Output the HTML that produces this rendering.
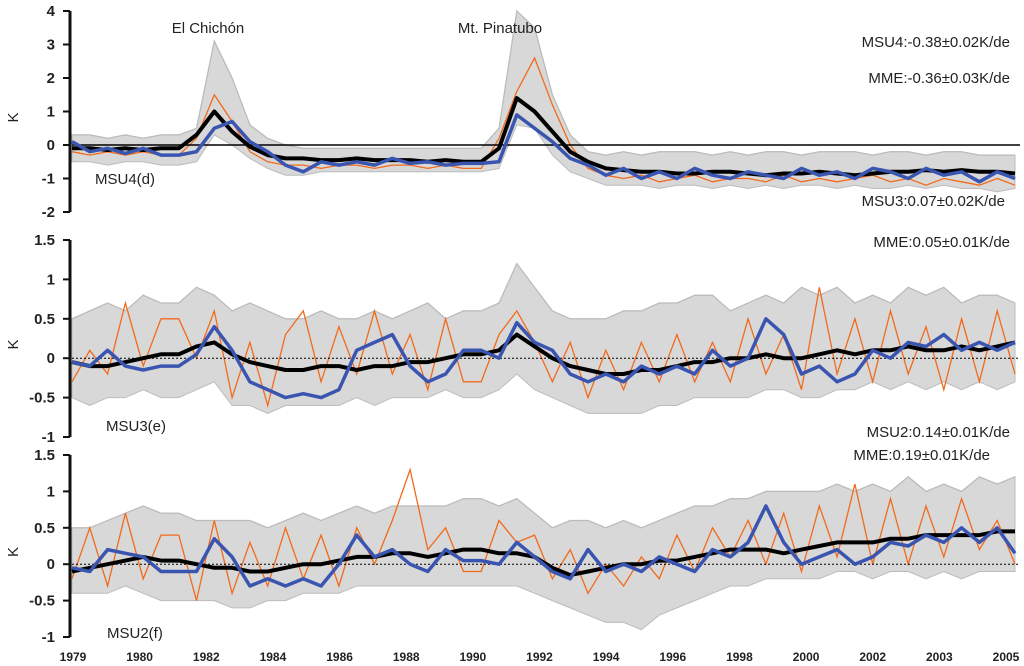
<!DOCTYPE html>
<html><head><meta charset="utf-8"><style>
html,body{margin:0;padding:0;background:#fff}
svg{display:block;font-family:"Liberation Sans",sans-serif}
</style></head><body>
<svg id="c" width="1024" height="666" viewBox="0 0 1024 666"></svg>
<script>
const xLabels=["1979","1980","1982","1984","1986","1988","1990","1992","1994","1996","1998","2000","2002","2003","2005"];
const p1Ticks=[4,3,2,1,0,-1,-2];
const p2Ticks=[1.5,1,0.5,0,-0.5,-1];
const p3Ticks=[1.5,1,0.5,0,-0.5,-1];
const p1Black=[-0.1,-0.1,-0.15,-0.1,-0.15,-0.1,-0.1,0.3,1.0,0.4,-0.05,-0.3,-0.4,-0.4,-0.45,-0.45,-0.4,-0.45,-0.45,-0.45,-0.5,-0.45,-0.5,-0.5,-0.1,1.4,1.0,0.4,-0.2,-0.5,-0.7,-0.75,-0.8,-0.8,-0.85,-0.85,-0.8,-0.8,-0.85,-0.9,-0.85,-0.85,-0.8,-0.85,-0.9,-0.85,-0.8,-0.8,-0.75,-0.8,-0.75,-0.8,-0.8,-0.85];
const p1Blue=[0.1,-0.2,-0.1,-0.25,-0.1,-0.3,-0.3,-0.2,0.5,0.7,0.1,-0.2,-0.6,-0.8,-0.5,-0.6,-0.5,-0.6,-0.4,-0.55,-0.5,-0.6,-0.55,-0.55,-0.5,0.9,0.5,0.1,-0.4,-0.6,-0.9,-0.7,-1.0,-0.8,-1.0,-0.7,-0.9,-1.0,-0.8,-0.9,-1.0,-0.7,-0.9,-0.8,-1.0,-0.7,-0.8,-1.0,-0.7,-0.9,-0.8,-1.1,-0.8,-1.0];
const p1Upper=[0.3,0.3,0.2,0.3,0.2,0.3,0.3,0.5,3.1,2.0,0.6,0.2,0.0,-0.1,-0.1,-0.1,-0.1,-0.1,-0.1,-0.1,-0.1,-0.1,-0.1,-0.1,0.5,4.0,3.5,1.5,0.3,-0.2,-0.3,-0.2,-0.3,-0.2,-0.2,-0.2,-0.3,-0.2,-0.3,-0.2,-0.2,-0.3,-0.2,-0.2,-0.2,-0.3,-0.2,-0.2,-0.3,-0.2,-0.2,-0.3,-0.3,-0.3];
const p1Lower=[-0.5,-0.5,-0.6,-0.5,-0.5,-0.6,-0.6,-0.5,0.3,0.0,-0.4,-0.7,-0.9,-0.9,-0.8,-0.8,-0.8,-0.8,-0.8,-0.8,-0.8,-0.8,-0.8,-0.8,-0.7,0.6,0.5,-0.3,-0.8,-1.0,-1.2,-1.2,-1.2,-1.3,-1.2,-1.2,-1.3,-1.2,-1.3,-1.2,-1.3,-1.2,-1.2,-1.3,-1.2,-1.3,-1.3,-1.2,-1.3,-1.2,-1.3,-1.3,-1.4,-1.3];
const p1Orange=[-0.2,-0.3,-0.2,-0.3,-0.2,-0.3,-0.3,0.2,1.5,0.7,-0.2,-0.5,-0.6,-0.6,-0.7,-0.6,-0.6,-0.7,-0.6,-0.6,-0.7,-0.6,-0.7,-0.7,0.2,1.6,2.6,1.2,0.0,-0.7,-0.9,-1.0,-0.9,-1.1,-1.0,-0.9,-1.1,-1.0,-1.0,-1.1,-0.9,-1.1,-1.0,-1.1,-1.0,-0.9,-1.1,-1.0,-1.2,-1.0,-1.1,-1.2,-1.0,-1.2];
const p2Black=[-0.05,-0.1,-0.1,-0.05,0.0,0.05,0.05,0.15,0.2,0.05,-0.05,-0.1,-0.15,-0.15,-0.1,-0.1,-0.15,-0.1,-0.1,-0.05,-0.05,0.0,0.05,0.05,0.1,0.3,0.15,0.0,-0.1,-0.15,-0.2,-0.2,-0.15,-0.15,-0.1,-0.05,-0.05,0.0,0.0,0.05,0.0,0.0,0.05,0.1,0.05,0.1,0.1,0.15,0.1,0.1,0.15,0.1,0.15,0.2];
const p2Blue=[-0.05,-0.1,0.1,-0.1,-0.15,-0.1,-0.1,0.05,0.4,0.1,-0.3,-0.4,-0.5,-0.45,-0.5,-0.4,0.1,0.2,0.3,-0.1,-0.3,-0.2,0.1,0.1,0.0,0.45,0.2,0.1,-0.2,-0.3,-0.2,-0.3,-0.1,-0.2,-0.1,-0.2,0.1,-0.1,0.0,0.5,0.3,-0.2,-0.1,-0.3,-0.2,0.1,0.0,0.2,0.15,0.3,0.1,0.2,0.1,0.2];
const p2Upper=[0.5,0.6,0.7,0.6,0.8,0.7,0.7,0.9,0.8,0.6,0.7,0.6,0.5,0.5,0.6,0.5,0.5,0.6,0.5,0.6,0.7,0.5,0.6,0.6,0.7,1.2,0.9,0.6,0.5,0.5,0.5,0.6,0.6,0.7,0.7,0.8,0.8,0.6,0.7,0.8,0.7,0.9,0.8,0.9,0.7,0.8,0.7,0.9,0.8,0.9,0.7,0.8,0.8,0.7];
const p2Lower=[-0.5,-0.6,-0.5,-0.5,-0.4,-0.5,-0.5,-0.4,-0.3,-0.6,-0.6,-0.7,-0.6,-0.6,-0.6,-0.6,-0.5,-0.6,-0.5,-0.5,-0.5,-0.4,-0.5,-0.5,-0.4,-0.2,-0.4,-0.5,-0.6,-0.7,-0.7,-0.7,-0.7,-0.6,-0.6,-0.5,-0.5,-0.5,-0.5,-0.4,-0.4,-0.5,-0.5,-0.4,-0.4,-0.3,-0.4,-0.3,-0.4,-0.3,-0.4,-0.3,-0.4,-0.3];
const p2Orange=[-0.3,0.1,-0.2,0.7,-0.1,0.5,0.5,0.0,0.6,-0.5,0.2,-0.6,0.3,0.6,-0.3,0.4,-0.2,0.6,-0.2,0.3,-0.4,0.5,-0.3,-0.3,0.3,0.6,0.2,-0.3,0.2,-0.5,0.1,-0.4,0.2,-0.3,0.3,-0.3,0.2,-0.3,0.5,-0.2,0.3,-0.4,0.9,-0.2,0.5,-0.3,0.6,-0.2,0.4,-0.4,0.5,-0.3,0.6,-0.2];
const p3Black=[-0.1,-0.05,0.0,0.05,0.1,0.05,0.05,0.0,-0.05,-0.05,-0.1,-0.1,-0.05,0.0,0.0,0.05,0.1,0.1,0.15,0.15,0.1,0.15,0.2,0.2,0.15,0.15,0.1,-0.05,-0.15,-0.1,-0.05,0.0,0.0,0.05,0.05,0.1,0.15,0.2,0.2,0.2,0.15,0.2,0.25,0.3,0.3,0.3,0.35,0.35,0.4,0.4,0.4,0.4,0.45,0.45];
const p3Blue=[-0.05,-0.1,0.2,0.15,0.1,-0.1,-0.1,-0.1,0.35,0.1,-0.3,-0.2,-0.3,-0.2,-0.3,0.0,0.4,0.1,0.2,0.0,-0.1,0.2,0.05,0.05,0.0,0.3,0.1,-0.1,-0.2,0.2,-0.1,0.0,-0.1,0.1,0.0,-0.1,0.2,0.1,0.3,0.8,0.3,0.0,0.1,0.2,0.0,0.1,0.3,0.25,0.4,0.3,0.5,0.3,0.5,0.15];
const p3Upper=[0.5,0.5,0.6,0.7,0.8,0.7,0.7,0.6,0.6,0.6,0.6,0.5,0.6,0.7,0.6,0.7,0.8,0.7,0.8,0.8,0.8,0.8,0.9,0.9,0.8,0.9,0.7,0.5,0.6,0.6,0.5,0.6,0.5,0.6,0.7,0.8,0.8,0.9,0.9,1.0,1.0,1.0,1.0,1.1,1.0,1.1,1.0,1.2,1.0,1.1,1.0,1.2,1.1,1.2];
const p3Lower=[-0.4,-0.4,-0.4,-0.3,-0.4,-0.5,-0.5,-0.5,-0.5,-0.6,-0.6,-0.5,-0.5,-0.4,-0.4,-0.4,-0.3,-0.3,-0.3,-0.3,-0.3,-0.3,-0.3,-0.3,-0.3,-0.3,-0.4,-0.5,-0.6,-0.7,-0.8,-0.8,-0.9,-0.7,-0.6,-0.5,-0.4,-0.3,-0.3,-0.2,-0.2,-0.2,-0.2,-0.1,-0.1,-0.2,-0.1,-0.1,-0.2,-0.1,-0.2,-0.1,-0.1,-0.1];
const p3Orange=[-0.2,0.5,-0.3,0.7,-0.2,0.4,0.4,-0.5,0.6,-0.4,0.3,-0.3,0.5,-0.2,0.4,-0.3,0.5,0.0,0.6,1.3,0.2,0.5,-0.1,-0.1,0.6,0.3,0.4,-0.2,0.2,-0.4,0.0,-0.3,0.1,-0.2,0.4,-0.1,0.5,0.1,0.6,0.0,0.7,-0.1,0.8,0.1,1.1,0.0,0.9,0.0,0.8,0.1,0.9,0.2,0.6,0.0];

const svg=document.getElementById('c');
const NS='http://www.w3.org/2000/svg';
function mk(tag,attrs,parent){const e=document.createElementNS(NS,tag);for(const k in attrs)e.setAttribute(k,attrs[k]);(parent||svg).appendChild(e);return e;}
const X0=72,X1=1015,T0=1979,T1=2005.5;
function xs(i,n){const t=T0+i*(T1-T0)/(n-1);return X0+(t-T0)/(T1-T0)*(X1-X0);}
function path(arr,ys){return arr.map((v,i)=>(i?'L':'M')+xs(i,arr.length).toFixed(1)+','+ys(v).toFixed(1)).join('');}

const panels=[
 {name:'msu4',ticks:p1Ticks,top:11,bot:212,max:4,min:-2,black:p1Black,blue:p1Blue,up:p1Upper,lo:p1Lower,or:p1Orange,label:'MSU4(d)',lx:95,ly:184,solidZero:true},
 {name:'msu3',ticks:p2Ticks,top:240,bot:437,max:1.5,min:-1,black:p2Black,blue:p2Blue,up:p2Upper,lo:p2Lower,or:p2Orange,label:'MSU3(e)',lx:106,ly:431},
 {name:'msu2',ticks:p3Ticks,top:455,bot:637,max:1.5,min:-1,black:p3Black,blue:p3Blue,up:p3Upper,lo:p3Lower,or:p3Orange,label:'MSU2(f)',lx:107,ly:638}
];
panels.forEach(p=>{
  const g=mk('g',{});
  
  
  const ys=v=>p.top+(p.max-v)/(p.max-p.min)*(p.bot-p.top);
  const bd=path(p.up,ys)+p.lo.slice().reverse().map((v,j)=>{const i=p.lo.length-1-j;return 'L'+xs(i,p.lo.length).toFixed(1)+','+ys(v).toFixed(1);}).join('')+'Z';
  const band=mk('path',{d:bd,fill:'#d8d8d8',stroke:'#bcbcbc','stroke-width':1},g);
  
  
  const ul=mk('path',{d:path(p.up,ys),fill:'none',stroke:'#bbb','stroke-width':1.2},g);
  
  
  const or=mk('path',{d:path(p.or,ys),fill:'none',stroke:'#f26a1b','stroke-width':1.3},g);
  
  
  const z=mk('line',{x1:X0,x2:1020,y1:ys(0),y2:ys(0),stroke:'#000','stroke-width':p.solidZero?1.5:1,'stroke-dasharray':p.solidZero?'':'2,2'},g);
  
  
  const bl=mk('path',{d:path(p.black,ys),fill:'none',stroke:'#000','stroke-width':4,'stroke-linejoin':'round'},g);
  
  
  const bu=mk('path',{d:path(p.blue,ys),fill:'none',stroke:'#3a55b0','stroke-width':3.5,'stroke-linejoin':'round'},g);
  
  
  const ax=mk('line',{x1:70,x2:70,y1:p.top,y2:p.bot,stroke:'#111','stroke-width':3},g);
  
  
  p.ticks.forEach(t=>{
    const tk=mk('line',{x1:63,x2:70,y1:ys(t),y2:ys(t),stroke:'#111','stroke-width':2},g);
    
    
    const tl=mk('text',{x:55,y:ys(t)+5,'text-anchor':'end','font-size':15,'font-weight':'bold',fill:'#222'},g);
    tl.textContent=String(t);
    
    
  });
  const k=mk('text',{x:0,y:0,'font-size':15,fill:'#222',transform:`translate(18,${(p.top+p.bot)/2+6}) rotate(-90)`,'text-anchor':'middle'},g);
  k.textContent='K';
  
  
  const pl=mk('text',{x:p.lx,y:p.ly,'font-size':15,fill:'#222'},g);
  pl.textContent=p.label;
  
  
});
xLabels.forEach((l,i)=>{
  const t=mk('text',{x:73+i*(1006-73)/(xLabels.length-1),y:661,'text-anchor':'middle','font-size':12,'font-weight':'bold',fill:'#222'});
  t.textContent=l;
  
  
});
const notes=[['El Chichón',208,33,'middle'],['Mt. Pinatubo',500,33,'middle'],['MSU4:-0.38±0.02K/de',1010,47,'end'],['MME:-0.36±0.03K/de',1010,83,'end'],['MSU3:0.07±0.02K/de',1005,206,'end'],['MME:0.05±0.01K/de',1010,247,'end'],['MSU2:0.14±0.01K/de',1010,437,'end'],['MME:0.19±0.01K/de',990,460,'end']];
notes.forEach(n=>{
  const t=mk('text',{x:n[1],y:n[2],'text-anchor':n[3],'font-size':15,fill:'#222'});
  t.textContent=n[0];
  
  
});
</script>
</body></html>
